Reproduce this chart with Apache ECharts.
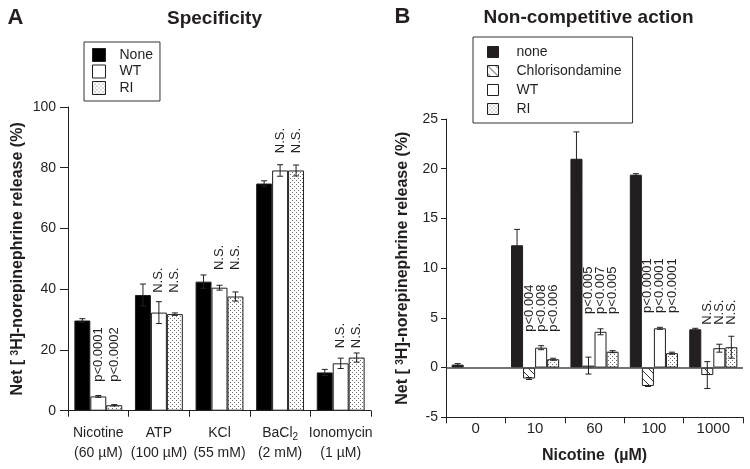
<!DOCTYPE html>
<html>
<head>
<meta charset="utf-8">
<script src="https://cdn.jsdelivr.net/npm/echarts@6/dist/echarts.min.js"></script>
<style>html,body{margin:0;padding:0;background:#fff}#c{width:750px;height:469px}</style>
</head>
<body>
<div id="c"></div>
<script>
// ---------- DATA ----------
const catsA = ['Nicotine\n(60 µM)', 'ATP\n(100 µM)', 'KCl\n(55 mM)', 'BaCl{sub|2}\n(2 mM)', 'Ionomycin\n(1 µM)'];
const noneA = [29.7, 38.1, 42.5, 74.8, 12.6];
const noneAErr = [0.6, 3.6, 2.2, 0.9, 1.0];
const wtA = [4.7, 32.3, 40.5, 79.1, 15.6];
const wtAErr = [0.3, 3.6, 0.8, 1.9, 1.7];
const riA = [1.8, 31.8, 37.6, 79.1, 17.5];
const riAErr = [0.2, 0.4, 1.5, 1.8, 1.5];
const annA_WT = ['p<0.0001', 'N.S.', 'N.S.', 'N.S.', 'N.S.'];
const annA_RI = ['p<0.0002', 'N.S.', 'N.S.', 'N.S.', 'N.S.'];
const annA_level = [9.5, 38.8, 46.3, 84.8, 20.6];
const ticksA = [0, 20, 40, 60, 80, 100];

const catsB = ['0', '10', '60', '100', '1000'];
const noneB = [0.3, 12.3, 21.0, 19.4, 3.85];
const noneBErr = [0.1, 1.6, 2.7, 0.1, 0.1];
const chlorB = [null, -1.1, 0.2, -1.85, -0.75];
const chlorBErr = [null, 0.1, 0.85, 0.05, 1.35];
const wtB = [null, 2.0, 3.6, 3.95, 1.95];
const wtBErr = [null, 0.2, 0.3, 0.1, 0.4];
const riB = [null, 0.84, 1.6, 1.45, 2.05];
const riBErr = [null, 0.1, 0.1, 0.1, 1.1];
const annB_chlor = [null, 'p<0.004', 'p<0.005', 'p<0.0001', 'N.S.'];
const annB_WT = [null, 'p<0.008', 'p<0.007', 'p<0.0001', 'N.S.'];
const annB_RI = [null, 'p<0.006', 'p<0.005', 'p<0.0001', 'N.S.'];
const annB_level = [null, 3.6, 5.4, 5.5, 4.3];

// ---------- PATTERNS ----------
function dotPattern() {
  const c = document.createElement('canvas'); c.width = 4; c.height = 4;
  const g = c.getContext('2d');
  g.fillStyle = '#fff'; g.fillRect(0, 0, 4, 4);
  g.fillStyle = '#6a6a6a'; g.fillRect(0, 0, 1, 1); g.fillRect(2, 2, 1, 1);
  return { image: c, repeat: 'repeat' };
}
function hatchPattern() {
  const c = document.createElement('canvas'); c.width = 8; c.height = 8;
  const g = c.getContext('2d');
  g.fillStyle = '#fff'; g.fillRect(0, 0, 8, 8);
  g.strokeStyle = '#333'; g.lineWidth = 1;
  g.beginPath(); g.moveTo(-1, -1); g.lineTo(9, 9); g.stroke();
  return { image: c, repeat: 'repeat' };
}
const DOT = dotPattern(), HATCH = hatchPattern();
const INK = '#231f20';
const FONT = 'Arial, "Liberation Sans", sans-serif';

// ---------- HELPERS ----------
function bar(name, data, color, axisIdx) {
  return {
    type: 'bar', name: name, data: data, xAxisIndex: axisIdx, yAxisIndex: axisIdx,
    barGap: 0, barCategoryGap: axisIdx === 0 ? '21%' : '19%',
    itemStyle: { color: color, borderColor: INK, borderWidth: 1 },
    emphasis: { disabled: true }, animation: false
  };
}
function slotX(api, ci, k, n, gap) {
  const c = api.coord([ci, 0]);
  const band = api.size([1, 0])[0];
  const used = band * (1 - gap);
  const w = used / n;
  return c[0] - used / 2 + w * (k + 0.5);
}
function errSeries(vals, errs, k, n, gap, axisIdx) {
  const data = [];
  vals.forEach((v, i) => { if (v != null) data.push([i, v, errs[i]]); });
  return {
    type: 'custom', name: 'err' + axisIdx + '_' + k, xAxisIndex: axisIdx, yAxisIndex: axisIdx,
    data: data, silent: true, animation: false, z: 5,
    renderItem: function (params, api) {
      const ci = api.value(0), v = api.value(1), e = api.value(2);
      const x = slotX(api, ci, k, n, gap);
      const yt = api.coord([ci, v + e])[1];
      const yb = api.coord([ci, v - e])[1];
      const cw = 3;
      const st = { stroke: INK, lineWidth: 1 };
      return {
        type: 'group', children: [
          { type: 'line', shape: { x1: x, y1: yt, x2: x, y2: yb }, style: st },
          { type: 'line', shape: { x1: x - cw, y1: yt, x2: x + cw, y2: yt }, style: st },
          { type: 'line', shape: { x1: x - cw, y1: yb, x2: x + cw, y2: yb }, style: st }
        ]
      };
    }
  };
}
function annSeries(texts, levels, k, n, gap, axisIdx) {
  const data = [];
  texts.forEach((t, i) => { if (t != null) data.push([i, levels[i]]); });
  const txt = texts.filter(t => t != null);
  return {
    type: 'custom', name: 'ann' + axisIdx + '_' + k, xAxisIndex: axisIdx, yAxisIndex: axisIdx,
    data: data, silent: true, animation: false, z: 6,
    renderItem: function (params, api) {
      const ci = api.value(0), lv = api.value(1);
      const x = slotX(api, ci, k, n, gap);
      const y = api.coord([ci, lv])[1];
      return {
        type: 'text', x: x, y: y, rotation: Math.PI / 2,
        style: { text: txt[params.dataIndex], font: '13px ' + FONT, fill: INK, align: 'left', verticalAlign: 'middle' }
      };
    }
  };
}

const yName = 'Net [ {sup|3}H]-norepinephrine release (%)';
const nameStyle = {
  fontSize: 16, fontWeight: 'bold', color: INK, fontFamily: FONT,
  rich: { sup: { fontSize: 10, fontWeight: 'bold', verticalAlign: 'top', lineHeight: 8, color: INK } }
};
const axisLineStyle = { show: true, lineStyle: { color: INK, width: 1 } };

const chart = echarts.init(document.getElementById('c'), null, { renderer: 'canvas' });
const gapA = 0.21, gapB = 0.19;
chart.setOption({
  animation: false,
  textStyle: { fontFamily: FONT },
  graphic: [
    { type: 'text', x: 15.5, y: 18, style: { text: 'A', font: 'bold 22px ' + FONT, fill: INK, align: 'center', verticalAlign: 'middle' } },
    { type: 'text', x: 214.5, y: 19, style: { text: 'Specificity', font: 'bold 19px ' + FONT, fill: INK, align: 'center', verticalAlign: 'middle' } },
    { type: 'text', x: 402.5, y: 17, style: { text: 'B', font: 'bold 22px ' + FONT, fill: INK, align: 'center', verticalAlign: 'middle' } },
    { type: 'text', x: 588.5, y: 18, style: { text: 'Non-competitive action', font: 'bold 19px ' + FONT, fill: INK, align: 'center', verticalAlign: 'middle' } }
  ],
  legend: [
    {
      data: ['None', 'WT', 'RI'], orient: 'vertical', left: 84, top: 42,
      padding: [6, 7, 6, 8], itemGap: 2.5, itemWidth: 13, itemHeight: 13, icon: 'rect',
      borderColor: '#333', borderWidth: 1, selectedMode: false,
      itemStyle: { borderColor: INK, borderWidth: 1 },
      textStyle: { fontSize: 14, color: INK, padding: [0, 0, 0, 9] }
    },
    {
      data: ['none', 'Chlorisondamine', 'WT', 'RI'], orient: 'vertical', left: 473, top: 37,
      padding: [8, 11, 7, 14], itemGap: 5, itemWidth: 11, itemHeight: 11, icon: 'rect',
      borderColor: '#333', borderWidth: 1, selectedMode: false,
      itemStyle: { borderColor: INK, borderWidth: 1 },
      textStyle: { fontSize: 14, color: INK, padding: [0, 0, 0, 13] }
    }
  ],
  grid: [
    { left: 68, top: 107, width: 303, height: 303.7, containLabel: false },
    { left: 446, top: 119, width: 297, height: 298.3, containLabel: false }
  ],
  xAxis: [
    {
      type: 'category', gridIndex: 0, data: catsA,
      axisLine: axisLineStyle,
      axisTick: { show: true, length: 6, lineStyle: { color: INK } },
      axisLabel: {
        fontSize: 14, color: INK, margin: 12, lineHeight: 20, interval: 0,
        rich: { sub: { fontSize: 10, color: INK, verticalAlign: 'bottom', lineHeight: 8 } }
      }
    },
    {
      type: 'category', gridIndex: 1, data: catsB,
      axisLine: { show: true, onZero: false, lineStyle: { color: INK, width: 1 } },
      axisTick: { show: true, length: 6, lineStyle: { color: INK } },
      axisLabel: { fontSize: 15, color: INK, margin: 4, interval: 0 },
      name: 'Nicotine  (µM)', nameLocation: 'middle', nameGap: 30,
      nameTextStyle: { fontSize: 16, fontWeight: 'bold', color: INK }
    }
  ],
  yAxis: [
    {
      type: 'value', gridIndex: 0, min: 0, max: 100, interval: 20,
      splitLine: { show: false }, axisLine: axisLineStyle,
      axisTick: { show: true, length: 8, lineStyle: { color: INK } },
      axisLabel: { fontSize: 14, color: INK, margin: 12 },
      name: yName, nameLocation: 'middle', nameGap: 42, nameTextStyle: nameStyle
    },
    {
      type: 'value', gridIndex: 1, min: -5, max: 25, interval: 5,
      splitLine: { show: false }, axisLine: { show: true, onZero: false, lineStyle: { color: INK, width: 1 } },
      axisTick: { show: true, length: 5, lineStyle: { color: INK } },
      axisLabel: { fontSize: 14, color: INK, margin: 8 },
      name: yName, nameLocation: 'middle', nameGap: 35, nameTextStyle: nameStyle
    }
  ],
  series: [
    bar('None', noneA, '#000', 0),
    bar('WT', wtA, '#fff', 0),
    bar('RI', riA, DOT, 0),
    errSeries(noneA, noneAErr, 0, 3, gapA, 0),
    errSeries(wtA, wtAErr, 1, 3, gapA, 0),
    errSeries(riA, riAErr, 2, 3, gapA, 0),
    annSeries(annA_WT, annA_level, 1, 3, gapA, 0),
    annSeries(annA_RI, annA_level, 2, 3, gapA, 0),

    Object.assign(bar('none', noneB, INK, 1), {
      markLine: {
        silent: true, symbol: 'none', animation: false,
        label: { show: false }, lineStyle: { color: '#444', width: 1.5, type: 'solid' },
        data: [{ yAxis: 0 }]
      }
    }),
    bar('Chlorisondamine', chlorB, HATCH, 1),
    bar('WT', wtB, '#fff', 1),
    bar('RI', riB, DOT, 1),
    errSeries(noneB, noneBErr, 0, 4, gapB, 1),
    errSeries(chlorB, chlorBErr, 1, 4, gapB, 1),
    errSeries(wtB, wtBErr, 2, 4, gapB, 1),
    errSeries(riB, riBErr, 3, 4, gapB, 1),
    annSeries(annB_chlor, annB_level, 1, 4, gapB, 1),
    annSeries(annB_WT, annB_level, 2, 4, gapB, 1),
    annSeries(annB_RI, annB_level, 3, 4, gapB, 1)
  ]
});
</script>
</body>
</html>
